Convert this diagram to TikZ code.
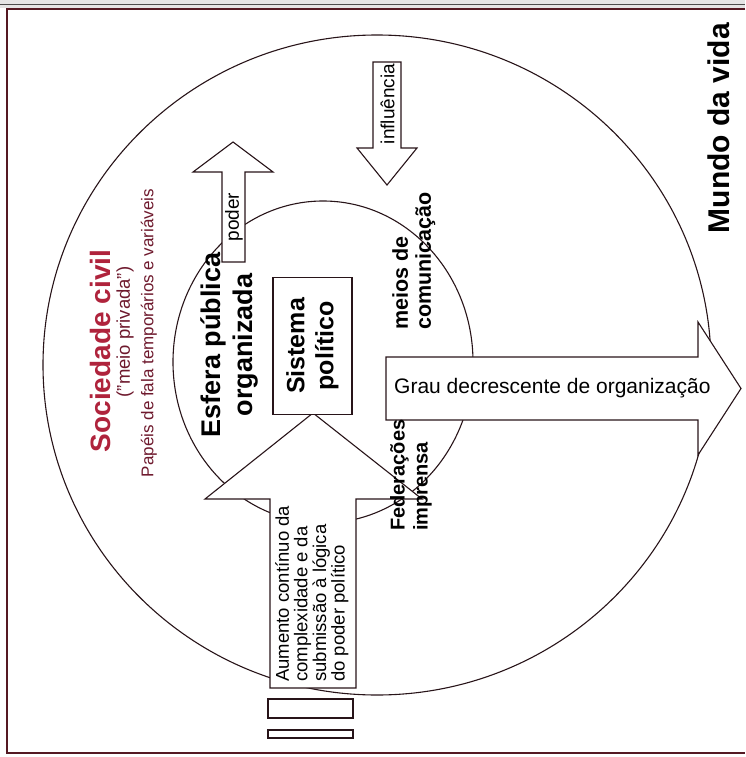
\documentclass[tikz,border=0pt]{standalone}
\usepackage{fontspec}
\setmainfont{Liberation Sans}
\definecolor{ink}{RGB}{40,20,25}
\definecolor{inkred}{RGB}{85,25,35}
\definecolor{civred}{RGB}{175,35,60}
\definecolor{maroon}{RGB}{110,25,45}
\begin{document}
\begin{tikzpicture}[x=1pt,y=-1pt,
  outline/.style={draw=ink, line width=1.1pt},
  shapefill/.style={outline, fill=white, line join=miter},
  vtext/.style={rotate=90, inner sep=0pt, font=\fontsize{#1}{#1}\selectfont},
  vtext/.default=18]
\useasboundingbox (0,0) rectangle (745,757);
\fill[black!10] (0,0) rectangle (745,8);
\draw[black!70, line width=1pt] (0,5) -- (745,5);
% frame
\draw[outline, draw=inkred] (745,9) -- (7,9) -- (7,753) -- (745,753);
% ellipses
\draw[outline] (377,365) ellipse [x radius=334, y radius=330];
\draw[outline] (323,362) ellipse [x radius=150, y radius=161];
% big up arrow
\draw[shapefill] (270,688) -- (270,499) -- (205,499) -- (313,413) -- (422,499) -- (356,499) -- (356,688) -- cycle;
% Sistema politico box
\node (sis) [outline, fill=white, rotate=90, minimum width=137pt, minimum height=79pt, inner sep=0pt,
  align=center, font=\fontsize{25}{29}\selectfont\bfseries] at (312.5,346) {Sistema\\político};
% poder arrow
\draw[shapefill] (222,262) -- (222,172) -- (193,172) -- (233,142) -- (273,172) -- (245,172) -- (245,262) -- cycle;
\node (poder) [vtext=19] at (234,217) {poder};
% influencia arrow
\draw[shapefill] (373,62) -- (373,148) -- (357,148) -- (387,185) -- (417,148) -- (401,148) -- (401,62) -- cycle;
\node (infl) [vtext=19] at (387.5,104) {influência};
% Grau arrow
\draw[shapefill] (386,357) -- (698,357) -- (698,322) -- (741,388.5) -- (698,455) -- (698,420) -- (386,420) -- cycle;
\node (grau) [anchor=west, inner sep=0pt, font=\fontsize{21}{21}\selectfont] at (394,388.5) {Grau decrescente de organização};
% small rectangles
\draw[outline] (268,699) rectangle (353,718);
\draw[outline] (268,730) rectangle (353,738);
% Aumento text
\node (aum) [rotate=90, anchor=north west, inner sep=0pt, align=left,
  font=\fontsize{18.5}{18.6}\selectfont] at (275,682)
  {Aumento contínuo da\\complexidade e da\\submissão à lógica\\do poder político};
% titles
\node (mundo) [vtext=30, font=\fontsize{30}{30}\selectfont\bfseries] at (719,128) {Mundo da vida};
\node (soc) [vtext=28, font=\fontsize{28}{28}\selectfont\bfseries, text=civred] at (100,351) {Sociedade civil};
\node (meio) [vtext=18.5, text=maroon] at (125,332) {("meio privada")};
\node (papeis) [vtext=17, text=maroon] at (149,333) {Papéis de fala temporários e variáveis};
\node (esfera) [rotate=90, inner sep=0pt, align=center, font=\fontsize{27}{32}\selectfont\bfseries] at (229,345) {Esfera pública\\organizada};
\node (meios) [rotate=90, anchor=north west, inner sep=0pt, align=left, font=\fontsize{21.5}{23}\selectfont\bfseries] at (392,330) {meios de\\comunicação};
\node (fed) [rotate=90, anchor=north west, inner sep=0pt, align=left, font=\fontsize{20}{23}\selectfont\bfseries] at (390,531) {Federações\\imprensa};
\end{tikzpicture}
\end{document}
